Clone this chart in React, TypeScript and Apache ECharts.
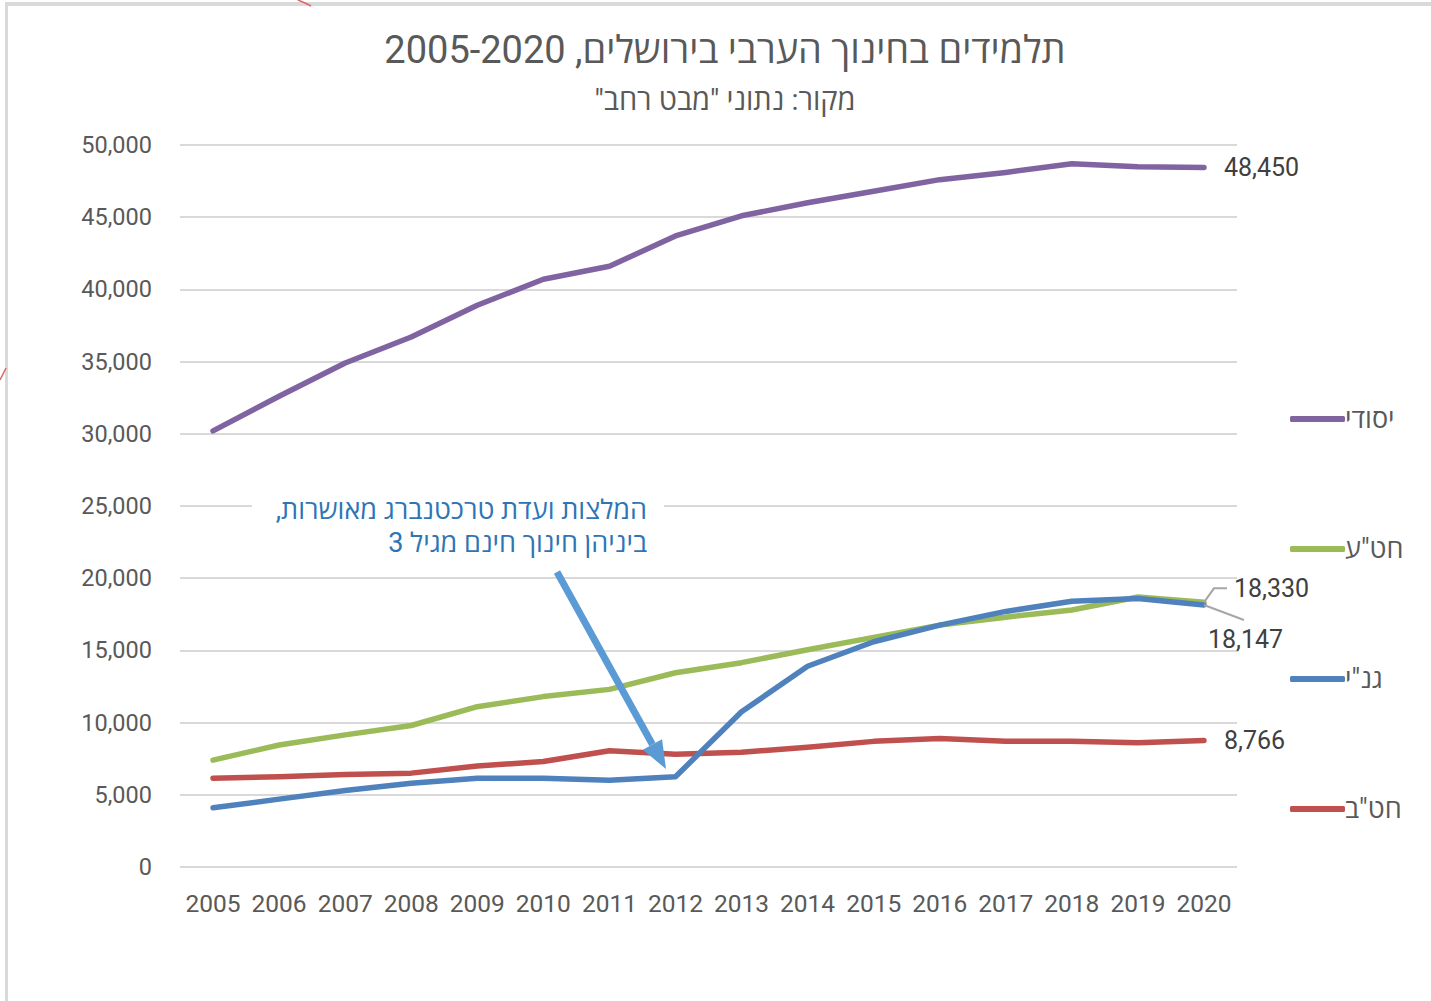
import React, { useEffect, useRef } from "react";
import * as echarts from "echarts";

const RLM = "\u200F";
const years = ["2005", "2006", "2007", "2008", "2009", "2010", "2011", "2012", "2013", "2014", "2015", "2016", "2017", "2018", "2019", "2020"];
const yesodi = [30200, 32600, 34900, 36700, 38900, 40700, 41600, 43700, 45100, 46000, 46800, 47600, 48100, 48700, 48500, 48450];
const hatea = [7400, 8450, 9150, 9800, 11100, 11800, 12300, 13450, 14150, 15050, 15900, 16750, 17300, 17800, 18700, 18330];
const gani = [4100, 4700, 5300, 5800, 6150, 6150, 6000, 6250, 10750, 13900, 15600, 16750, 17700, 18400, 18600, 18147];
const hatab = [6150, 6250, 6400, 6500, 7000, 7300, 8050, 7800, 7950, 8300, 8700, 8900, 8700, 8700, 8600, 8766];

const seriesNames = ["יסודי", 'חט"ע', 'גנ"י', 'חט"ב'];
const title = "תלמידים בחינוך הערבי בירושלים, 2005-2020";
const subtitle = 'מקור: נתוני "מבט רחב"';
const noteLine1 = "המלצות ועדת טרכטנברג מאושרות,";
const noteLine2 = "ביניהן חינוך חינם מגיל 3";

const FONT = "Roboto, 'Open Sans', 'Liberation Sans', 'DejaVu Sans', sans-serif";
const fmt = (v: number) => v.toLocaleString("en-US");

function withEndLabel(values: number[], label: any) {
  return values.map((v, i) =>
    i === values.length - 1 ? { value: v, label: { show: true, ...label } } : v
  );
}

export default function App() {
  const ref = useRef<HTMLDivElement>(null);
  useEffect(() => {
    document.body.style.margin = "0";
    const chart = echarts.init(ref.current!, undefined, { renderer: "svg" });
    const labelBase = {
      position: "right",
      distance: 20,
      color: "#404040",
      fontSize: 25,
      fontFamily: FONT,
      formatter: (p: any) => fmt(p.value),
    };
    const lineSeries = (name: string, data: any[], color: string, extra: any = {}) => ({
      name,
      type: "line",
      data,
      color,
      symbol: "circle",
      symbolSize: 0,
      showSymbol: true,
      lineStyle: { width: 5.5, color, cap: "round", join: "round" },
      itemStyle: { color },
      emphasis: { disabled: true },
      ...extra,
    });

    const tip = [666, 769];
    const start = [557, 572];
    const dx = tip[0] - start[0];
    const dy = tip[1] - start[1];
    const len = Math.sqrt(dx * dx + dy * dy);
    const ux = dx / len, uy = dy / len;
    const headLen = 28, headHalf = 11;
    const base = [tip[0] - headLen * ux, tip[1] - headLen * uy];
    const px = -uy * headHalf, py = ux * headHalf;

    chart.setOption({
      animation: false,
      backgroundColor: "#ffffff",
      grid: { left: 180, right: 194, top: 145, bottom: 134, containLabel: false },
      xAxis: {
        type: "category",
        data: years,
        boundaryGap: true,
        axisLine: { show: false },
        axisTick: { show: false },
        axisLabel: { color: "#595959", fontSize: 24.5, fontFamily: FONT, margin: 24, interval: 0 },
      },
      yAxis: {
        type: "value",
        min: 0,
        max: 50000,
        interval: 5000,
        axisLine: { show: false },
        axisTick: { show: false },
        splitLine: { lineStyle: { color: "#d9d9d9", width: 2 } },
        axisLabel: { color: "#595959", fontSize: 23.5, fontFamily: FONT, margin: 28, formatter: (v: number) => fmt(v) },
      },
      legend: {
        orient: "vertical",
        left: 1285,
        top: 400,
        itemGap: 102,
        itemWidth: 55,
        itemHeight: 6,
        icon: "roundRect",
        data: seriesNames,
        textStyle: { color: "#595959", fontSize: 27, fontFamily: FONT, lineHeight: 28, padding: [0, 0, 0, -5] },
        selectedMode: false,
      },
      series: [
        lineSeries(seriesNames[0], withEndLabel(yesodi, labelBase), "#8064a2"),
        lineSeries(seriesNames[1], withEndLabel(hatea, { ...labelBase, distance: 5 }), "#9bbb59", {
          labelLayout: () => ({ dx: 25, dy: -14 }),
        }),
        lineSeries(seriesNames[3], withEndLabel(hatab, labelBase), "#c0504d"),
        lineSeries(seriesNames[2], withEndLabel(gani, { ...labelBase, distance: 5 }), "#4f81bd", {
          labelLayout: () => ({ dx: -1, dy: 35 }),
        }),
      ],
      graphic: [
        { id: "bt", type: "rect", shape: { x: 8, y: 2, width: 1431, height: 4 }, style: { fill: "#d9d9d9" }, z: 100 },
        { id: "bl", type: "rect", shape: { x: 5, y: 2, width: 3, height: 1001 }, style: { fill: "#d9d9d9" }, z: 100 },
        { id: "r1", type: "polyline", shape: { points: [[298, 0], [305, 3], [311, 6]] }, style: { stroke: "#e06666", lineWidth: 1.5, fill: "none" }, z: 100 },
        { id: "r2", type: "polyline", shape: { points: [[0, 380], [3, 374], [6, 368]] }, style: { stroke: "#e06666", lineWidth: 1.5, fill: "none" }, z: 100 },
        {
          id: "title", type: "text", x: 725, y: 50, z: 100,
          style: { text: RLM + title + RLM, fill: "#595959", font: `38px ${FONT}`, align: "center", verticalAlign: "middle" },
        },
        {
          id: "sub", type: "text", x: 725, y: 100, z: 100,
          style: { text: RLM + subtitle + RLM, fill: "#595959", font: `29px ${FONT}`, align: "center", verticalAlign: "middle" },
        },
        { id: "box", type: "rect", shape: { x: 252, y: 492, width: 412, height: 70 }, style: { fill: "#ffffff" }, z: 90 },
        {
          id: "n1", type: "text", x: 647, y: 510, z: 100,
          style: { text: RLM + noteLine1 + RLM, fill: "#2e75b6", font: `27px ${FONT}`, align: "right", verticalAlign: "middle" },
        },
        {
          id: "n2", type: "text", x: 647, y: 543, z: 100,
          style: { text: RLM + noteLine2 + RLM, fill: "#2e75b6", font: `27px ${FONT}`, align: "right", verticalAlign: "middle" },
        },
        {
          id: "shaft", type: "line", z: 100,
          shape: { x1: start[0], y1: start[1], x2: base[0], y2: base[1] },
          style: { stroke: "#5b9bd5", lineWidth: 7 },
        },
        {
          id: "head", type: "polygon", z: 100,
          shape: { points: [tip, [base[0] + px, base[1] + py], [base[0] - px, base[1] - py]] },
          style: { fill: "#5b9bd5" },
        },
      ],
    });

    const last = years.length - 1;
    const pg = chart.convertToPixel({ seriesIndex: 1 }, [last, hatea[last]]) as number[];
    const pb = chart.convertToPixel({ seriesIndex: 3 }, [last, gani[last]]) as number[];
    chart.setOption({
      graphic: [
        {
          id: "leadG", type: "polyline", z: 60,
          shape: { points: [[pg[0], pg[1]], [pg[0] + 10, pg[1] - 14], [pg[0] + 23, pg[1] - 14]] },
          style: { stroke: "#a6a6a6", lineWidth: 2, fill: "none" },
        },
        {
          id: "leadB", type: "polyline", z: 60,
          shape: { points: [[pb[0], pb[1]], [pb[0] + 40, pb[1] + 15]] },
          style: { stroke: "#a6a6a6", lineWidth: 2, fill: "none" },
        },
      ],
    });
    return () => chart.dispose();
  }, []);
  return <div ref={ref} style={{ position: "absolute", left: 0, top: 0, width: 1431, height: 1001 }} />;
}
